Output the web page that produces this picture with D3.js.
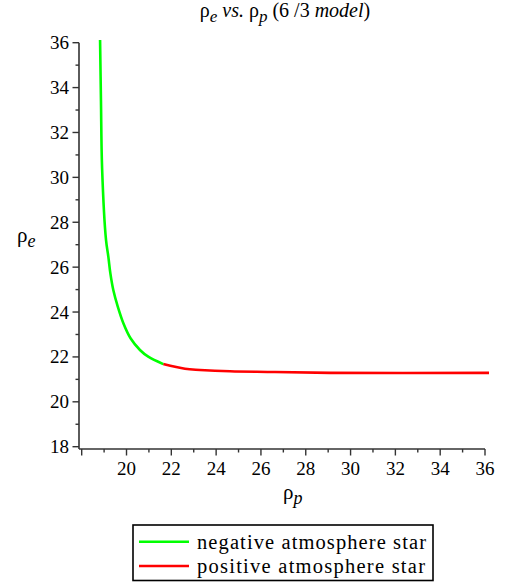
<!DOCTYPE html>
<html>
<head>
<meta charset="utf-8">
<script src="https://cdn.jsdelivr.net/npm/d3@7"></script>
<style>
  html, body { margin: 0; padding: 0; background: #fff; }
  svg { display: block; }
</style>
</head>
<body>
<script>
// ---- data ----
const negRhoP = [18.82, 18.86, 18.91, 19.085, 19.19, 19.28, 19.41, 19.61, 19.86, 20.18, 20.60, 20.97, 21.64];
const negRhoE = [36.12, 33.4, 30.42, 27.21, 26.46, 25.72, 24.98, 24.24, 23.50, 22.83, 22.31, 22.01, 21.68];
const posRhoP = [21.64, 22.61, 23.28, 24.62, 26.41, 29.09, 36.18];
const posRhoE = [21.68, 21.47, 21.42, 21.36, 21.33, 21.29, 21.29];
const xTicks = [18, 20, 22, 24, 26, 28, 30, 32, 34, 36];
const yTicks = [18, 20, 22, 24, 26, 28, 30, 32, 34, 36];
const legendLabels = ["negative atmosphere star", "positive atmosphere star"];
const seriesColors = ["#00ff00", "#ff0000"];

const FONT = "'Liberation Serif', 'DejaVu Serif', 'Noto Serif', Tinos, 'Times New Roman', Times, serif";
const W = 516, H = 586;
const svg = d3.select("body").append("svg").attr("width", W).attr("height", H)
  .attr("font-family", FONT).style("font-family", FONT);

const x = d3.scaleLinear().domain([18, 36]).range([81.7, 485]);
const y = d3.scaleLinear().domain([18, 36]).range([446.7, 42.7]);

const axisColor = "#333";
const xAxisY = 449, yAxisX = 79;

// X axis
const gx = svg.append("g").attr("transform", `translate(0,${xAxisY})`);
gx.append("line").attr("x1", yAxisX).attr("x2", x(36)).attr("y1", 0).attr("y2", 0)
  .attr("stroke", axisColor).attr("stroke-width", 1.6);
const xMinor = d3.range(19, 36, 2);
gx.selectAll(".xminor").data(xMinor).enter().append("line")
  .attr("x1", d => x(d)).attr("x2", d => x(d)).attr("y1", 0).attr("y2", 3.5)
  .attr("stroke", axisColor).attr("stroke-width", 1.4);
gx.selectAll(".xmajor").data(xTicks).enter().append("line")
  .attr("x1", d => x(d)).attr("x2", d => x(d)).attr("y1", 0).attr("y2", 6.5)
  .attr("stroke", axisColor).attr("stroke-width", 1.4);
gx.selectAll(".xlab").data(xTicks.filter(d => d !== 18)).enter().append("text")
  .attr("x", d => x(d)).attr("y", 26).attr("text-anchor", "middle")
  .attr("font-size", 19).text(d => d);

// Y axis
const gy = svg.append("g");
gy.append("line").attr("x1", yAxisX).attr("x2", yAxisX).attr("y1", y(36)).attr("y2", xAxisY)
  .attr("stroke", axisColor).attr("stroke-width", 1.6);
const yMinor = d3.range(19, 36, 2);
gy.selectAll(".yminor").data(yMinor).enter().append("line")
  .attr("x1", yAxisX - 3.5).attr("x2", yAxisX).attr("y1", d => y(d)).attr("y2", d => y(d))
  .attr("stroke", axisColor).attr("stroke-width", 1.4);
gy.selectAll(".ymajor").data(yTicks).enter().append("line")
  .attr("x1", yAxisX - 6.5).attr("x2", yAxisX).attr("y1", d => y(d)).attr("y2", d => y(d))
  .attr("stroke", axisColor).attr("stroke-width", 1.4);
gy.selectAll(".ylab").data(yTicks).enter().append("text")
  .attr("x", 69).attr("y", d => y(d) + 6.5).attr("text-anchor", "end")
  .attr("font-size", 19).text(d => d);

// Curves
const line = d3.line().x(d => x(d[0])).y(d => y(d[1])).curve(d3.curveCatmullRom.alpha(0.5));
const negData = negRhoP.map((v, i) => [v, negRhoE[i]]);
const posData = posRhoP.map((v, i) => [v, posRhoE[i]]);
svg.append("path").datum(posData).attr("d", line).attr("fill", "none")
  .attr("stroke", seriesColors[1]).attr("stroke-width", 2.6);
svg.append("path").datum(negData).attr("d", line).attr("fill", "none")
  .attr("stroke", seriesColors[0]).attr("stroke-width", 2.6);

// Title
const title = svg.append("text").attr("x", 285).attr("y", 17).attr("text-anchor", "middle")
  .attr("font-size", 20);
title.append("tspan").text("ρ");
title.append("tspan").attr("font-style", "italic").attr("dy", 5).attr("font-size", 17).text("e");
title.append("tspan").attr("font-style", "italic").attr("dy", -5).text(" vs. ");
title.append("tspan").text("ρ");
title.append("tspan").attr("font-style", "italic").attr("dy", 5).attr("font-size", 17).text("p");
title.append("tspan").attr("dy", -5).text(" (6 /3 ");
title.append("tspan").attr("font-style", "italic").text("model");
title.append("tspan").text(")");

// Y label
const ylab = svg.append("text").attr("x", 17).attr("y", 242).attr("font-size", 21);
ylab.append("tspan").text("ρ");
ylab.append("tspan").attr("font-style", "italic").attr("dy", 5).attr("font-size", 18).text("e");

// X label
const xlab = svg.append("text").attr("x", 283).attr("y", 499).attr("font-size", 21);
xlab.append("tspan").text("ρ");
xlab.append("tspan").attr("font-style", "italic").attr("dy", 5).attr("font-size", 18).text("p");

// Legend
const lg = svg.append("g");
lg.append("rect").attr("x", 133).attr("y", 525).attr("width", 300).attr("height", 55.5)
  .attr("fill", "#fff").attr("stroke", "#000").attr("stroke-width", 1.6);
legendLabels.forEach((lab, i) => {
  const cy = 541.7 + i * 24.3;
  lg.append("line").attr("x1", 139).attr("x2", 189).attr("y1", cy).attr("y2", cy)
    .attr("stroke", seriesColors[i]).attr("stroke-width", 2.6);
  lg.append("text").attr("x", 197).attr("y", cy + 7).attr("font-size", 20.5)
    .attr("textLength", i === 0 ? 229 : 228).attr("lengthAdjust", "spacing").text(lab);
});
</script>
</body>
</html>
